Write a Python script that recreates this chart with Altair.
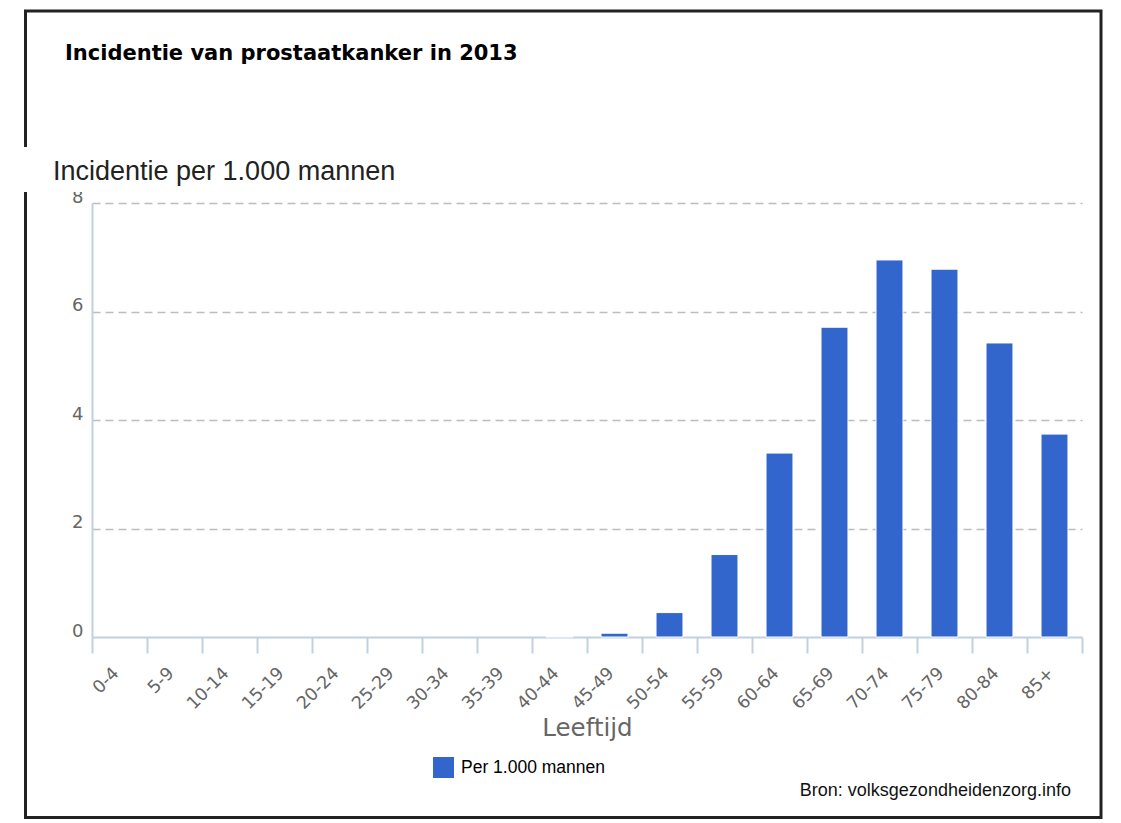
import altair as alt
import pandas as pd

# ---- data ----
categories = ["0-4", "5-9", "10-14", "15-19", "20-24", "25-29", "30-34", "35-39",
              "40-44", "45-49", "50-54", "55-59", "60-64", "65-69", "70-74",
              "75-79", "80-84", "85+"]
values = [0, 0, 0, 0, 0, 0, 0, 0, 0.01, 0.07, 0.45, 1.52, 3.39, 5.71, 6.95,
          6.78, 5.42, 3.74]
series_name = "Per 1.000 mannen"
y_ticks = [0, 2, 4, 6, 8]

chart_title = "Incidentie van prostaatkanker in 2013"
y_title = "Incidentie per 1.000 mannen"
x_title = "Leeftijd"
source_text = "Bron: volksgezondheidenzorg.info"

df = pd.DataFrame({"Leeftijd": categories, "Incidentie": values,
                   "Reeks": [series_name] * len(categories)})
one = pd.DataFrame({"k": [0]})

AXIS_BLUE = "#c0d0e0"

bars = alt.Chart(df).mark_bar(
    stroke="white", strokeWidth=1, width=alt.RelativeBandSize(0.49)
).encode(
    x=alt.X("Leeftijd:N", sort=categories,
            scale=alt.Scale(paddingInner=0, paddingOuter=0),
            axis=alt.Axis(title=x_title, labelAngle=-45, tickBand="extent",
                          labelFont="DejaVu Sans", labelFontSize=17.5,
                          labelColor="#666666", labelPadding=11, labelOffset=-10,
                          tickSize=16, tickColor=AXIS_BLUE, tickWidth=2,
                          domainColor=AXIS_BLUE, domainWidth=2, grid=False,
                          titleFont="DejaVu Sans", titleFontSize=24.5,
                          titleFontWeight="normal", titleColor="#666666",
                          titlePadding=4)),
    y=alt.Y("Incidentie:Q",
            scale=alt.Scale(domain=[0, 8], nice=False),
            axis=alt.Axis(title=None, values=y_ticks, ticks=False,
                          labelFont="DejaVu Sans", labelFontSize=18,
                          labelColor="#666666", labelPadding=9,
                          labelBaseline="alphabetic", labelOffset=-1,
                          domainColor=AXIS_BLUE, domainWidth=2,
                          grid=True, gridColor="#bdbdbd", gridDash=[8, 5],
                          gridWidth=1.7,
                          gridOpacity=alt.condition("datum.value === 0",
                                                    alt.value(0), alt.value(1)))),
    color=alt.Color("Reeks:N", scale=alt.Scale(range=["#3366cc"]),
                    legend=alt.Legend(title=None, orient="none",
                                      legendX=341, legendY=554, padding=0,
                                      symbolType="square", symbolSize=441,
                                      symbolStrokeWidth=0, labelFont="Liberation Sans",
                                      labelFontSize=17.5, labelColor="#000000",
                                      labelOffset=7)),
    opacity=alt.condition("datum.Incidentie > 0", alt.value(1), alt.value(0))
)

frame = alt.Chart(one).mark_rect(fillOpacity=0, stroke="#222222", strokeWidth=3).encode(
    x=alt.value(-66.5), x2=alt.value(1009), y=alt.value(-192), y2=alt.value(614.5)
)

whitebox = alt.Chart(one).mark_rect(color="white").encode(
    x=alt.value(-72), x2=alt.value(320), y=alt.value(-56), y2=alt.value(-11)
)

ytitle = alt.Chart(one).mark_text(
    align="left", baseline="alphabetic", font="Liberation Sans",
    fontSize=27, color="#222222"
).encode(x=alt.value(-39), y=alt.value(-23), text=alt.value(y_title))

title = alt.Chart(one).mark_text(
    align="left", baseline="alphabetic", font="DejaVu Sans",
    fontSize=21, fontWeight="bold", color="#000000"
).encode(x=alt.value(-27), y=alt.value(-143), text=alt.value(chart_title))

source = alt.Chart(one).mark_text(
    align="right", baseline="alphabetic", font="Liberation Sans",
    fontSize=18, color="#111111"
).encode(x=alt.value(979), y=alt.value(593), text=alt.value(source_text))

chart = alt.layer(frame, whitebox, bars, ytitle, title, source).properties(
    width=990, height=434,
    background="white",
    autosize=alt.AutoSizeParams(type="none"),
    padding={"left": 84, "top": 195, "right": 30, "bottom": 184}
).configure_view(strokeWidth=0)

chart.save("out.html", embed_options={"renderer": "svg", "actions": False})
